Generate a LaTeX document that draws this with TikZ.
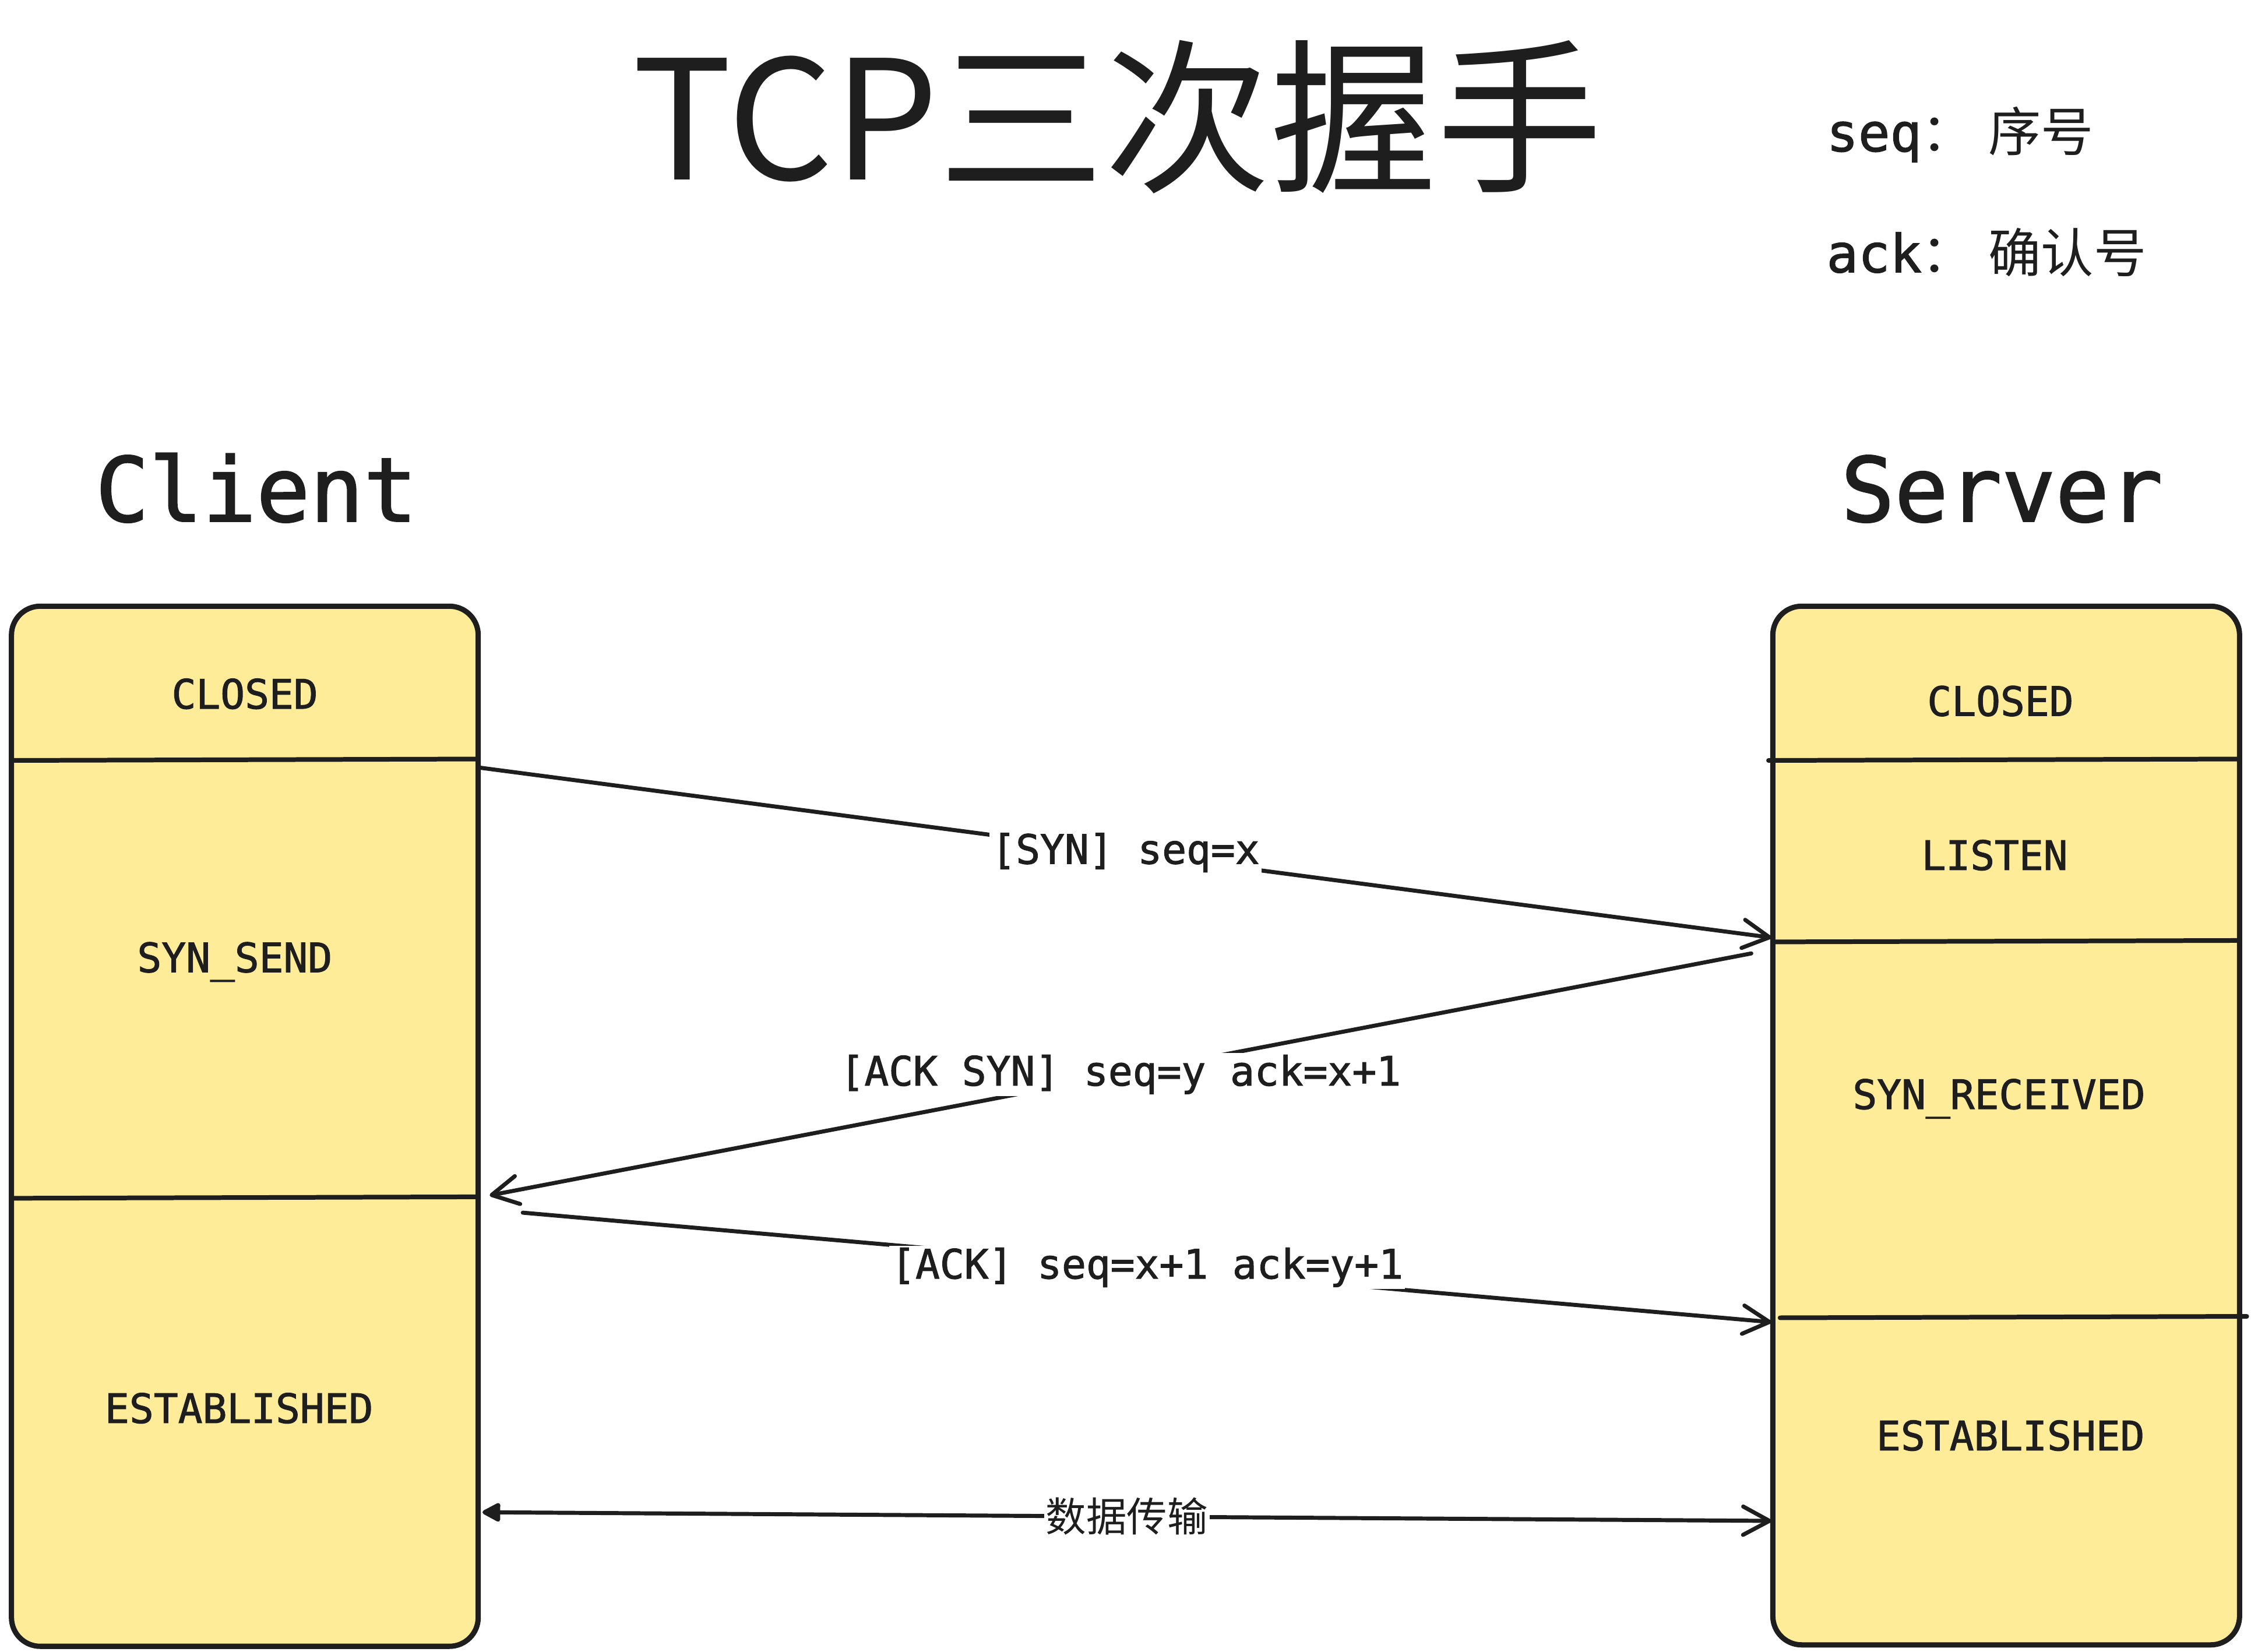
\documentclass[tikz,border=0pt]{standalone}
\usepackage{fontspec}
\setmonofont[FakeBold=1.6]{DejaVu Sans Mono}
\newfontfamily\cjk{Noto Sans CJK SC}
\usetikzlibrary{positioning,arrows.meta}
\definecolor{ink}{HTML}{1E1E1E}
\definecolor{paper}{HTML}{FFEC99}

\begin{document}
\begin{tikzpicture}[x=0.025cm, y=-0.025cm, ink, line cap=round,
    statebox/.style={draw=ink, fill=paper, line width=2.6pt, rounded corners=0.5cm,
        minimum width=8.1cm, minimum height=18.05cm, inner sep=0pt},
    divider/.style={draw=ink, line width=2.3pt},
    msg/.style={line width=2pt, -{Straight Barb[length=13pt,width=14pt,round]}},
    msglabel/.style={fill=white, inner sep=1pt, font=\ttfamily\fontsize{20}{24}\selectfont},
    statelabel/.style={anchor=base, inner sep=0pt, font=\ttfamily\fontsize{20}{24}\selectfont},
    host/.style={anchor=base, inner sep=0pt, font=\ttfamily\fontsize{44}{52}\selectfont},
    note/.style={anchor=base west, inner sep=0pt, font=\fontsize{26}{30}\selectfont}]
    \useasboundingbox (0,0) rectangle (1563,1147);

    % Title and legend
    \node[anchor=base, inner sep=0pt, font=\cjk\fontsize{82}{96}\selectfont] (title) at (776,125) {TCP三次握手};
    \node[note] (seqnote) at (1268,105) {\ttfamily seq\cjk ：\hspace{7pt}序号};
    \node[note] (acknote) at (1268,189) {\ttfamily ack\cjk ：\hspace{7pt}确认号};

    % Client
    \node[host] (clientname) at (178,362) {Client};
    \node[statebox] (client) at (170,782) {};
    \draw[divider] (8,528) -- (332,527);
    \draw[divider] (8,832) -- (332,831);
    \node[statelabel] (cclosed) at (170,492) {CLOSED};
    \node[statelabel] (csynsend) at (163,675) {SYN\_SEND};
    \node[statelabel] (cestab) at (166,988) {ESTABLISHED};

    % Server
    \node[host] (servername) at (1390,362) {Server};
    \node[statebox, minimum height=18.025cm] (server) at (1393,781.5) {};
    \draw[divider] (1228,528) -- (1555,527);
    \draw[divider] (1231,654) -- (1555,653);
    \draw[divider] (1236,915) -- (1560,914);
    \node[statelabel] (sclosed) at (1389,497) {CLOSED};
    \node[statelabel] (slisten) at (1385,604) {LISTEN};
    \node[statelabel] (ssynrcvd) at (1388,770) {SYN\_RECEIVED};
    \node[statelabel] (sestab) at (1396,1007) {ESTABLISHED};

    % Handshake messages
    \coordinate (synA) at (333,533);
    \coordinate (synB) at (1230,651);
    \coordinate (acksynA) at (1216,662);
    \coordinate (acksynB) at (340,830);
    \coordinate (ackA) at (363,842);
    \coordinate (ackB) at (1230,918);
    \coordinate (dataA) at (335,1050);
    \coordinate (dataB) at (1230,1056);
    \draw[msg] (synA) -- node[msglabel] (synlabel) {[SYN] seq=x} (synB);
    \draw[msg] (acksynA) -- node[msglabel] (acksynlabel) {[ACK SYN] seq=y ack=x+1} (acksynB);
    \draw[msg] (ackA) -- node[msglabel] (acklabel) {[ACK] seq=x+1 ack=y+1} (ackB);
    \draw[msg, {Triangle[length=10pt,width=10pt,round]}-{Straight Barb[length=13pt,width=14pt,round]}]
        (dataA) -- node[msglabel, font=\cjk\fontsize{20}{24}\selectfont] (datalabel) {数据传输} (dataB);
\end{tikzpicture}
\end{document}
